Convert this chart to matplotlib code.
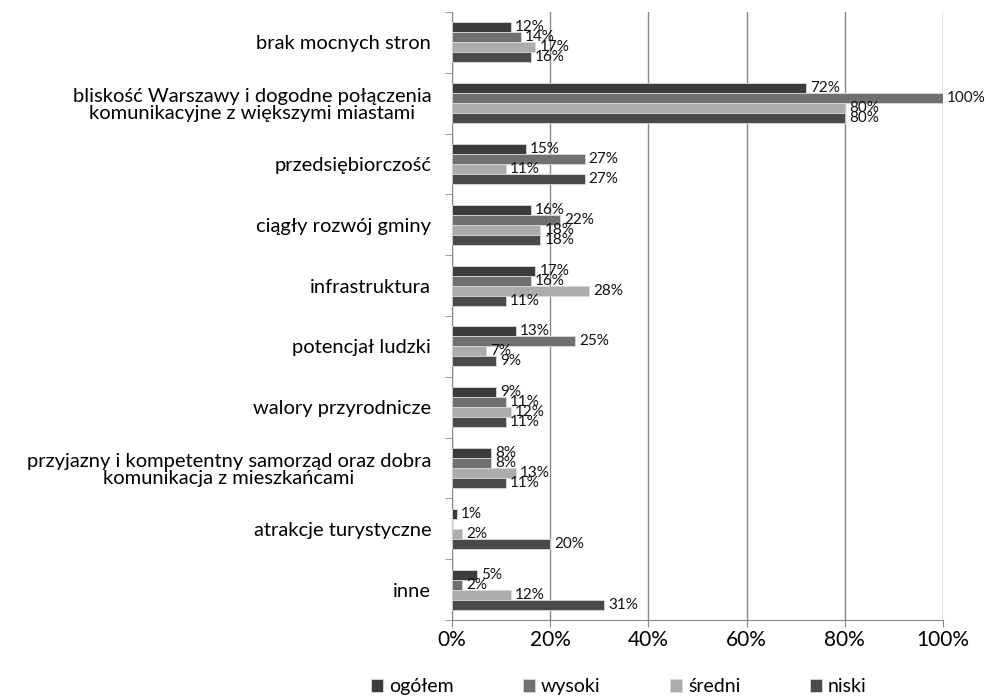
import matplotlib
matplotlib.use("Agg")
import matplotlib.pyplot as plt
import numpy as np
from matplotlib.ticker import FuncFormatter

plt.rcParams['font.family'] = ['Lato', 'DejaVu Sans']

categories = [
    "brak mocnych stron",
    "bliskość Warszawy i dogodne połączenia\nkomunikacyjne z większymi miastami",
    "przedsiębiorczość",
    "ciągły rozwój gminy",
    "infrastruktura",
    "potencjał ludzki",
    "walory przyrodnicze",
    "przyjazny i kompetentny samorząd oraz dobra\nkomunikacja z mieszkańcami",
    "atrakcje turystyczne",
    "inne",
]
series_names = ["ogółem", "wysoki", "średni", "niski"]
ogolem = [12, 72, 15, 16, 17, 13, 9, 8, 1, 5]
wysoki = [14, 100, 27, 22, 16, 25, 11, 8, 0, 2]
sredni = [17, 80, 11, 18, 28, 7, 12, 13, 2, 12]
niski = [16, 80, 27, 18, 11, 9, 11, 11, 20, 31]
xticks = [0, 20, 40, 60, 80, 100]

colors = ["#3c3c3c", "#707070", "#acacac", "#4a4a4a"]

fig = plt.figure(figsize=(9.87, 6.99), dpi=100)
ax = fig.add_axes([452/987, 1-620/699, 491/987, 608/699])

n = len(categories)
y = np.arange(n)
h = 0.165
data = [ogolem, wysoki, sredni, niski]
for i, (vals, col, name) in enumerate(zip(data, colors, series_names)):
    pos = y - 1.5*h + i*h
    ax.barh(pos, vals, height=h, color=col, edgecolor="#d8d8d8", linewidth=0.6, label=name, zorder=3)
    for p, v in zip(pos, vals):
        if name == "wysoki" and v == 0:
            continue
        ax.annotate(f"{v}%", xy=(v, p), xytext=(3, 0), textcoords="offset points",
                    va="center", ha="left", fontsize=11, color="#111111", zorder=4,
                    annotation_clip=False)

ax.set_ylim(n - 0.5, -0.5)
ax.set_xlim(0, 100)
ax.set_xticks(xticks)
ax.xaxis.set_major_formatter(FuncFormatter(lambda v, p: f"{int(v)}%"))
ax.set_yticks(y)
ax.set_yticklabels(categories, fontsize=14.5)
for lbl in ax.get_yticklabels():
    lbl.set_multialignment("center")
    lbl.set_linespacing(1.05)
ax.set_yticks(np.arange(-0.5, n, 1), minor=True)
ax.tick_params(axis="y", which="major", length=0, pad=15)
ax.tick_params(axis="y", which="minor", length=5, color="#888888")
ax.tick_params(axis="x", length=5, color="#888888", labelsize=15, pad=2)
ax.grid(axis="x", color="#888888", linewidth=1.0, zorder=0)
ax.set_axisbelow(True)
for s in ["top", "right"]:
    ax.spines[s].set_visible(False)
ax.spines["left"].set_color("#888888")
ax.spines["bottom"].set_color("#888888")

handles, labels = ax.get_legend_handles_labels()
fig.legend(handles, labels, loc="lower center", bbox_to_anchor=(0.627, -0.02), ncol=4,
           frameon=False, fontsize=14, handlelength=0.6, handleheight=0.6,
           handletextpad=0.3, columnspacing=3.6)

fig.savefig("out.png", dpi=100)
